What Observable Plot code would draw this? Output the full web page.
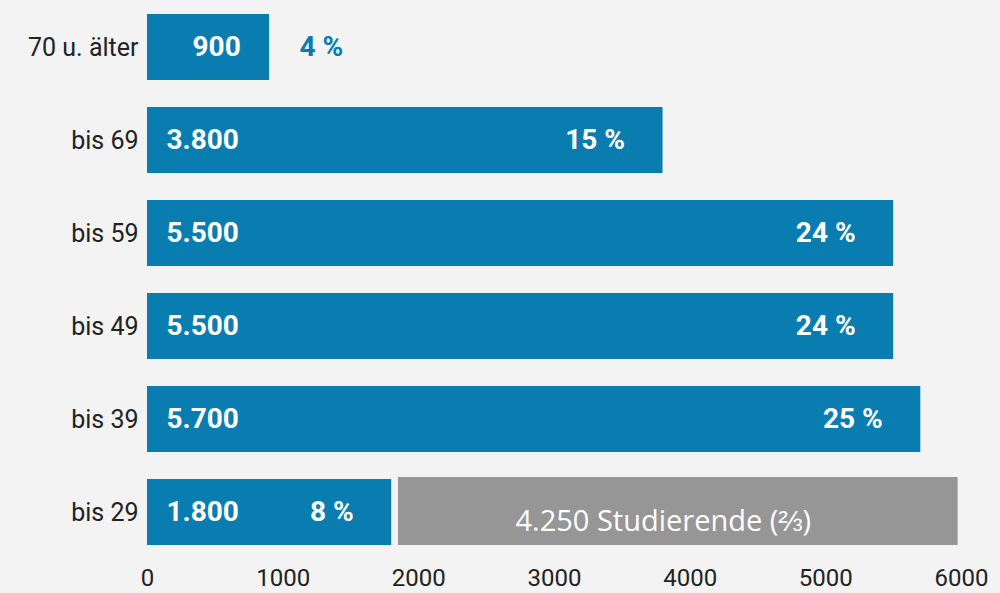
<!DOCTYPE html>
<html>
<head>
<meta charset="utf-8">
<script src="https://cdn.jsdelivr.net/npm/d3@7"></script>
<script src="https://cdn.jsdelivr.net/npm/@observablehq/plot@0.6"></script>
<style>
  html, body { margin: 0; padding: 0; background: #f3f3f3; }
  #chart svg { display: block; }
</style>
</head>
<body>
<div id="chart"></div>
<script>
const categories = ["70 u. älter", "bis 69", "bis 59", "bis 49", "bis 39", "bis 29"];
const values = [900, 3800, 5500, 5500, 5700, 1800];
const valueLabels = ["900", "3.800", "5.500", "5.500", "5.700", "1.800"];
const percentLabels = ["4 %", "15 %", "24 %", "24 %", "25 %", "8 %"];
const xTicks = [0, 1000, 2000, 3000, 4000, 5000, 6000];
const noteCategory = ["bis 29"];
const noteStart = [1850];
const noteEnd = [5975];
const noteLabel = ["4.250 Studierende (⅔)"];

const data = categories.map((c, i) => ({
  cat: c, value: values[i], vlabel: valueLabels[i], plabel: percentLabels[i]
}));
const note = noteCategory.map((c, i) => ({cat: c, x1: noteStart[i], x2: noteEnd[i], label: noteLabel[i]}));

const blue = "#0a7db0";
const font = "Roboto, 'Open Sans', sans-serif";

const chart = Plot.plot({
  width: 1000,
  height: 593,
  marginLeft: 147,
  marginRight: 39,
  marginTop: 13,
  marginBottom: 47,
  style: {background: "#f3f3f3", fontFamily: font},
  x: {domain: [0, 6000]},
  y: {domain: categories, paddingInner: 0.293, paddingOuter: 0},
  marks: [
    Plot.barX(note, {x1: "x1", x2: "x2", y: "cat", fill: "#969696", insetTop: -2}),
    Plot.text(note, {x: d => (d.x1 + d.x2) / 2, y: "cat", text: "label", fill: "white",
      fontSize: 29, dy: 9, dx: -15, fontFamily: "'Open Sans', sans-serif"}),
    Plot.barX(data, {x: "value", y: "cat", fill: blue}),
    Plot.text(data.filter(d => d.value >= 1000), {x: 0, y: "cat", text: "vlabel", fill: "white",
      fontSize: 28, fontWeight: "bold", textAnchor: "start", dx: 19}),
    Plot.text(data.filter(d => d.value < 1000), {x: 0, y: "cat", text: "vlabel", fill: "white",
      fontSize: 28, fontWeight: "bold", textAnchor: "start", dx: 45}),
    Plot.text(data.filter(d => d.value >= 1000), {x: "value", y: "cat", text: "plabel", fill: "white",
      fontSize: 28, fontWeight: "bold", textAnchor: "end", dx: -38}),
    Plot.text(data.filter(d => d.value < 1000), {x: "value", y: "cat", text: "plabel", fill: blue,
      fontSize: 28, fontWeight: "bold", textAnchor: "start", dx: 30}),
    Plot.axisY({tickSize: 0, tickPadding: 9, fontSize: 25, label: null, color: "#222"}),
    Plot.axisX({ticks: xTicks, tickFormat: d => String(d), tickSize: 0, tickPadding: 22,
      fontSize: 24, label: null, color: "#222", anchor: "bottom"})
  ]
});
document.getElementById("chart").append(chart);
</script>
</body>
</html>
